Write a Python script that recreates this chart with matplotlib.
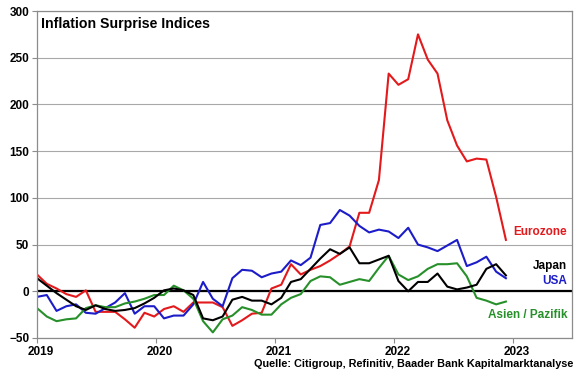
import pandas as pd
import numpy as np
import matplotlib
matplotlib.use("Agg")
import matplotlib.pyplot as plt
import matplotlib.dates as mdates
import matplotlib.transforms as mtransforms

# monthly readings, Jan 2019 - Dec 2022
dates = pd.date_range("2019-01-01", periods=49, freq="30D")

eurozone = [18, 8, 3, -3, -6, 1, -22, -22, -22, -30, -39, -23,
            -27, -19, -16, -22, -12, -12, -12, -17, -37, -31, -24, -23,
            3, 7, 29, 18, 23, 27, 33, 40, 48, 84, 84, 119,
            233, 221, 227, 275, 248, 233, 183, 156, 139, 142, 141, 101, 55]
usa = [-6, -4, -21, -16, -14, -23, -24, -18, -12, -2, -24, -16,
       -16, -29, -26, -26, -14, 10, -8, -16, 14, 23, 22, 15,
       19, 21, 33, 28, 36, 71, 73, 87, 81, 70, 63, 66,
       64, 57, 68, 50, 47, 43, 49, 55, 27, 31, 37, 21, 14]
japan = [14, 6, -2, -9, -16, -20, -15, -19, -21, -20, -18, -13,
         -7, 1, 3, 1, -4, -29, -31, -27, -9, -6, -10, -10,
         -14, -7, 10, 13, 24, 35, 45, 40, 47, 30, 30, 34,
         38, 11, 0, 10, 10, 19, 5, 2, 4, 7, 24, 29, 17]
asia = [-18, -27, -32, -30, -29, -18, -15, -17, -17, -13, -11, -8,
        -4, -4, 6, 1, -8, -32, -44, -30, -26, -17, -20, -25,
        -25, -14, -7, -3, 11, 16, 15, 7, 10, 13, 11, 25,
        38, 18, 12, 16, 24, 29, 29, 30, 16, -7, -10, -14, -11]

series = [
    ("Eurozone", eurozone, "#e3191c", 63),
    ("USA", usa, "#1c1cc8", 11),
    ("Asien / Pazifik", asia, "#27902a", -25.5),
    ("Japan", japan, "#000000", 27),
]

plt.rcParams["font.family"] = ["Liberation Sans", "DejaVu Sans"]
plt.rcParams["font.weight"] = "bold"

fig = plt.figure(figsize=(5.8, 3.75), dpi=100)
ax = fig.add_axes([37 / 580, 1 - 338 / 375, 535 / 580, 327 / 375])

ax.set_ylim(-50, 300)
ax.set_yticks(np.arange(-50, 301, 50))
ax.set_xlim(pd.Timestamp("2019-01-01"), pd.Timestamp("2023-07-02"))
ax.xaxis.set_major_locator(mdates.YearLocator())
ax.xaxis.set_major_formatter(mdates.DateFormatter("%Y"))

ax.grid(axis="y", color="#a8a8a8", lw=0.8)
ax.set_axisbelow(True)
ax.axhline(0, color="black", lw=1.6, zorder=1.5)

for name, vals, col, ylab in series:
    ax.plot(dates, vals, color=col, lw=1.5, zorder=2)
    ax.text(0.991, ylab, name, color=col, fontsize=8.5, fontweight="bold",
            ha="right", va="center", transform=ax.get_yaxis_transform())

for s in ax.spines.values():
    s.set_color("#8c8c8c")
    s.set_linewidth(0.9)

ax.tick_params(axis="both", direction="out", length=3.5, width=0.8,
               color="#8c8c8c", labelsize=8.5, pad=2)
for lab in ax.get_xticklabels():
    lab.set_transform(lab.get_transform() +
                      mtransforms.ScaledTranslation(4 / 100, 0, fig.dpi_scale_trans))

ax.text(0.007, 0.947, "Inflation Surprise Indices", transform=ax.transAxes,
        fontsize=10.2, fontweight="bold", ha="left", va="baseline")

fig.text(573 / 580, 1 - 366.7 / 375,
         "Quelle: Citigroup, Refinitiv, Baader Bank Kapitalmarktanalyse",
         fontsize=7.8, fontweight="bold", ha="right", va="baseline")

plt.savefig("out.png", dpi=100)
plt.close()
